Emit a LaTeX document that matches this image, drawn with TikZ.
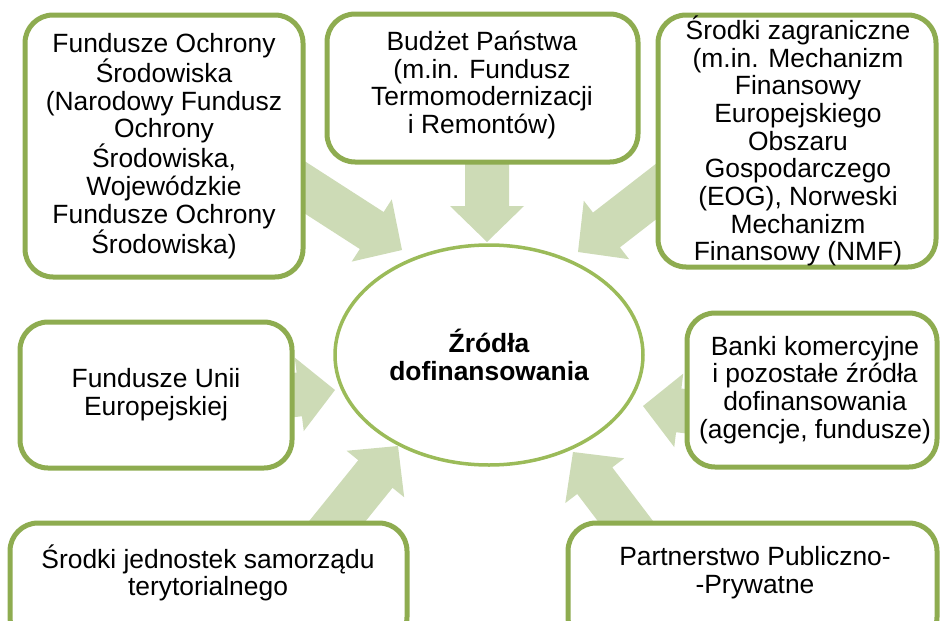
\documentclass[tikz,border=0pt]{standalone}
\usepackage{fontspec}
\setmainfont{Liberation Sans}
\usetikzlibrary{calc,shapes.geometric}
\definecolor{boxgreen}{HTML}{8EAC50}
\definecolor{ellgreen}{HTML}{9BBB59}
\definecolor{arrowgreen}{HTML}{CDDBB6}
\newcommand\blockarrow[2]{%
  \coordinate (#1b) at ($(#2)!36pt!(#1)$);
  \fill[arrowgreen] ($(#1)!22pt!90:(#2)$) -- ($(#1b)!22pt!90:(#2)$) -- ($(#1b)!37pt!90:(#2)$) -- (#2)
    -- ($(#1b)!37pt!-90:(#2)$) -- ($(#1b)!22pt!-90:(#2)$) -- ($(#1)!22pt!-90:(#2)$) -- cycle;}
\begin{document}
\begin{tikzpicture}[x=1pt,y=-1pt,
  box/.style={draw=boxgreen, line width=5pt, rounded corners=28pt, fill=white, inner sep=0pt},
  txt/.style={align=center, inner sep=0pt, font=\fontsize{26.4}{27.7}\selectfont},
  ell/.style={ellipse, draw=ellgreen, line width=3.5pt, fill=white, inner sep=0pt,
              minimum width=308pt, minimum height=220pt, align=center,
              font=\fontsize{26.4}{27.7}\selectfont\bfseries}]
\useasboundingbox (0,0) rectangle (940,621);
\clip (0,0) rectangle (940,621);
% arrow tails (hidden behind boxes) and tips
\coordinate (s1) at (284,174); \coordinate (e1) at (402,250);
\coordinate (s2) at (487,150); \coordinate (e2) at (487,242);
\coordinate (s3) at (689,166); \coordinate (e3) at (578,252);
\coordinate (s4) at (196,407); \coordinate (e4) at (335,390);
\coordinate (s5) at (782,423); \coordinate (e5) at (643,406);
\coordinate (s6) at (310,555); \coordinate (e6) at (398,446);
\coordinate (s7) at (658,564); \coordinate (e7) at (573,452);
\blockarrow{s1}{e1}
\blockarrow{s2}{e2}
\blockarrow{s3}{e3}
\blockarrow{s4}{e4}
\blockarrow{s5}{e5}
\blockarrow{s6}{e6}
\blockarrow{s7}{e7}
% boxes
\node[box, minimum width=278pt, minimum height=262pt] (b1) at (164,146) {};
\node[box, minimum width=311pt, minimum height=148pt] (b2) at (482.5,88) {};
\node[box, minimum width=278pt, minimum height=252pt] (b3) at (797,141) {};
\node[box, minimum width=272pt, minimum height=146pt] (b4) at (156,395) {};
\node[box, minimum width=250pt, minimum height=154pt] (b5) at (812,390) {};
\node[box, minimum width=397pt, minimum height=122pt] (b6) at (208.5,584) {};
\node[box, minimum width=369pt, minimum height=122pt] (b7) at (752.5,584) {};
% texts
\node[txt] (t1) at (164,146) {Fundusze Ochrony\\Środowiska\\(Narodowy Fundusz\\Ochrony\\Środowiska,\\Wojewódzkie\\Fundusze Ochrony\\Środowiska)};
\node[txt] (t2) at (482,85) {Budżet Państwa\\(m.in. Fundusz\\Termomodernizacji\\i Remontów)};
\node[txt] (t3) at (798,141) {Środki zagraniczne\\(m.in. Mechanizm\\Finansowy\\Europejskiego\\Obszaru\\Gospodarczego\\(EOG), Norweski\\Mechanizm\\Finansowy (NMF)};
\node[txt] (t4) at (156,395) {Fundusze Unii\\Europejskiej};
\node[txt] (t5) at (815,390) {Banki komercyjne\\i pozostałe źródła\\dofinansowania\\(agencje, fundusze)};
\node[txt] (t6) at (208,573) {Środki jednostek samorządu\\terytorialnego};
\node[txt] (t7) at (755,573) {Partnerstwo Publiczno-\\-Prywatne};
% centre
\node[ell] (c) at (489,355) {Źródła\\dofinansowania};
\end{tikzpicture}
\end{document}
